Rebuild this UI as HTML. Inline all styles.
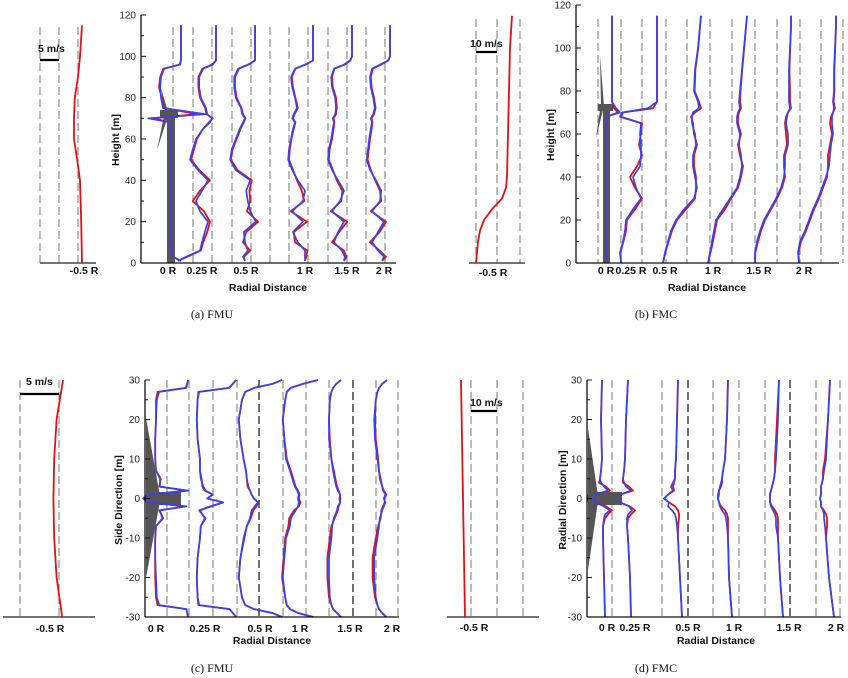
<!DOCTYPE html>
<html><head><meta charset="utf-8"><style>
html,body{margin:0;padding:0;background:#fff;}
svg{display:block;font-family:"Liberation Sans",Arial,sans-serif;}
.tk{font-size:10px;fill:#222;}
.lb{font-size:10.5px;font-weight:bold;fill:#111;}
.cap{font-family:"Liberation Serif",serif;font-size:12px;fill:#111;}
</style></head><body>
<svg id="fig" width="848" height="678" viewBox="0 0 848 678"></svg>
<script>
// ===== Panel (a) FMU : height profiles =====
const aHeights=[1,3,6,10,15,20,25,30,35,40,45,50,55,60,65,68,70,72,75,80,85,90,94,96,98,100,105,110,115];
const aStations=["0 R","0.25 R","0.5 R","1 R","1.5 R","2 R"];
const aBlue=[
[10,8,7.5,7.5,7.5,7.5,7.5,7.5,7.5,7.5,7.5,7.5,7.5,7.5,7.5,7.5,1.8,16.2,5.5,5,4.8,5,5.8,9.8,10,10,10,10,10],
[0.5,2.5,6,6.5,7.2,8,6,5,6.5,8,5.5,3.5,4.2,5,6.8,8.5,9,7.8,7.5,6.2,5.8,5.8,6.8,9.2,10,10,10,10,10],
[7.5,7,8.2,7.5,7.2,10.2,8.8,8.2,7.8,8.8,5.2,3.8,4.2,5.2,6.2,7,7.5,6.8,6.5,5.2,4.8,4.8,5.8,8.2,10,10,10,10,10],
[8,8,8,6.2,5,7.5,4.8,7.5,8,6.2,4.8,3.8,4,4.5,5,5.5,4.8,5.2,6,5.5,4.8,4.5,5.5,8,10,10,10,10,10],
[8,8.2,7.5,5.5,6.5,8,5,7,8,6.5,5,4,4.2,4.8,5.2,5.5,5.2,5.8,6,5.8,5,4.8,5.5,8,9.5,10,10,10,10],
[8,8.5,7,5.5,7,8.5,5.5,7.5,7.8,6.5,5,4.2,4.5,4.8,5.2,5.5,5.2,5.8,6.2,5.8,5.2,5,5.5,7.5,9.5,10,10,10,10]];
const aRed=[
[10,8,7.5,7.5,7.5,7.5,7.5,7.5,7.5,7.5,7.5,7.5,7.5,7.5,7.5,7.5,3,14,5.8,5.2,4.5,4.8,5.6,9.6,10,10,10,10,10],
[0.5,2.8,6.2,6.8,7.8,8.5,7,4.2,6,8.5,5.8,3.8,4.5,5.2,6.8,8.2,9.2,7.6,7.3,6,5.6,5.6,6.6,9,10,10,10,10,10],
[7.5,7.2,8.8,7,7.8,10.8,8,8.8,8.6,9.2,5.6,4,4.4,5.4,6.4,7.2,7.6,7,6.6,5.4,5,5,6,8.4,10,10,10,10,10],
[8,8.3,8.6,5.5,5.2,8.5,4.4,7.8,7.2,6,5,4,4.2,4.6,5.2,5.6,5,5.4,6.2,5.6,5,4.7,5.6,8.2,10,10,10,10,10],
[8,8.6,8,5,6.8,8.8,4.7,7.3,7.6,6.2,5.2,4.2,4.4,5,5.4,5.6,5.4,6,6.2,6,5.2,5,5.6,8.2,9.6,10,10,10,10],
[8,9,7.4,5,7.4,9,5.2,7.8,7.5,6.3,5.2,4.4,4.7,5,5.4,5.6,5.4,6,6.4,6,5.4,5.2,5.7,7.8,9.6,10,10,10,10]];
const aInH=[0,20,40,50,60,70,80,90,100,115];
const aInU=[10,9.8,9.5,8.8,8,8,8.2,9,9.5,10];
const aYTicks=[0,20,40,60,80,100,120];

// ===== Panel (b) FMC : height profiles =====
const bHeights=[0,5,10,15,20,25,30,35,40,45,50,55,60,65,68,70,72,75,80,90,100,110,115];
const bStations=["0 R","0.25 R","0.5 R","1 R","1.5 R","2 R"];
const bBlue=[
[17,17,17,17,17,17,17,17,17,17,17,17,17,17,17,24,22,20,20,20,20,20,20],
[2,1.5,3,4,4.5,8,12,9.5,8,11.5,12,12,11.5,12,1.5,2.5,15.5,20,20,20,20,20,20],
[1,2,3.5,5,7.5,11.5,16.5,18,17,16,16,17.5,17,15.5,15.5,16,19,18.5,16.5,17,18.5,19.5,20],
[0.5,1.5,2.5,3.5,4.5,8,11.5,15,16.5,17.5,17,16,16.5,15,15,15.5,16.5,16,16.5,17.5,18.5,19.5,20],
[2,2,3,4.5,6.5,9.5,12.5,15,16.5,17,17,18.5,18.5,17.5,18,18.5,19.5,19,19,19,19.5,20,20],
[1.5,1,2,4.5,6.5,8.5,11,13,15,16.5,17,17.5,18.5,18,18,18.5,19,18.5,19,19,19.5,20,20]];
const bRed=[
[17,17,17,17,17,17,17,17,17,17,17,17,17,17,17,23,21,20,20,20,20,20,20],
[2,1.8,3.2,4.5,5,9,12.5,9,6.5,10,12.5,11,12,12.5,2,3,18,20,20,20,20,20,20],
[1,2.2,3.8,5.5,8,12.5,17,17.5,17.5,16.5,16.5,18,16.5,16,15,17,20,19,16.8,17.2,18.6,19.5,20],
[0.5,1.8,3,4,5,9,12,15.5,17,18,16.5,15.5,17,15.5,15.5,16,17,16.5,16.8,17.6,18.6,19.5,20],
[2,2.2,3.5,5,7,10,13,15.5,17,16.5,16.5,18,17.5,17,17.5,18.5,20,19.5,19.5,19.2,19.6,20,20],
[1.5,1.2,2.5,5,7,9,11.5,13.5,15.5,16,16,17,18,17,17.5,18.5,19.5,18.8,19.2,19.2,19.6,20,20]];
const bInH=[0,5,10,15,20,25,30,35,40,60,80,100,115];
const bInU=[2,2.5,3,4,6,10,15,17,17.5,18,18.5,19,20];
const bYTicks=[0,20,40,60,80,100,120];

// ===== Panel (c) FMU : side profiles =====
const cSide=[-30,-29,-28,-27,-25,-20,-15,-10,-7,-5,-3,-2,-1,0,1,2,3,5,7,10,15,20,25,27,28,29,30];
const cStations=["0 R","0.25 R","0.5 R","1 R","1.5 R","2 R"];
const cBlue=[
[10,9.9,9.8,6.4,6.1,6,5.9,5.9,6,6.8,6.5,9.8,5,4.4,5,10,6.5,6.5,6,5.9,5.9,6,6.1,6.4,9.8,9.9,10],
[10,9.6,9.2,5.4,5.2,5.1,5.2,5.5,5.6,6.1,5.5,6.9,8.4,6.4,7.1,6.2,5.9,5.6,5.5,5.5,5.2,5.1,5.2,5.4,9.2,9.6,10],
[10,8.8,6.5,5.4,5,4.6,4.8,5.2,5.6,6,6.2,6.6,7,6.5,6.2,6,5.8,5.6,5.5,5.2,4.8,4.6,5,5.4,6.5,8.8,10],
[9.4,7.5,6.5,6.1,5.9,5.6,5.8,6,6.5,6.6,7.2,7.5,7.6,7.5,7.6,7.4,7.1,6.8,6.5,6,5.8,5.6,5.9,6.1,6.6,8.1,10],
[10,9.5,9,8.8,8.6,8.5,8.5,8.8,8.9,9.1,9.5,9.6,9.9,9.8,9.9,9.6,9.4,9.2,9,8.8,8.5,8.5,8.6,8.8,9,9.4,10],
[9.9,9.4,9,8.8,8.6,8.4,8.4,8.8,9,9.1,9.4,9.6,9.8,9.6,9.8,9.5,9.4,9.1,9,8.8,8.5,8.4,8.6,8.8,9,9.4,10]];
const cRed=[
[10,9.9,9.8,6.2,6,5.9,5.9,5.9,6,6.9,6.4,9.6,5,4.4,5,9.8,6.4,6.6,6,5.9,5.9,6,6,6.2,9.7,9.9,10],
[10,9.6,9.2,5.3,5.2,5.1,5.2,5.5,5.6,6.2,5.4,6.8,8.4,6.4,7.1,6.1,5.8,5.7,5.5,5.5,5.2,5.1,5.2,5.3,9.1,9.6,10],
[10,8.8,6.5,5.4,5,4.6,4.8,5.3,5.6,6.1,6.4,6.8,7,6.5,6.2,6,5.7,5.6,5.5,5.2,4.8,4.6,5,5.4,6.5,8.8,10],
[9.4,7.5,6.5,6.1,5.9,5.5,5.7,5.9,6.3,6.4,7,7.6,7.8,7.6,7.7,7.5,7.2,6.9,6.6,6.1,5.8,5.6,5.9,6.1,6.6,8.1,10],
[10,9.5,9,8.8,8.5,8.3,8.3,8.6,8.8,9.2,9.6,9.7,9.9,9.9,9.9,9.7,9.5,9.3,9.1,8.8,8.6,8.5,8.6,8.8,9,9.4,10],
[9.9,9.4,9,8.8,8.5,8.2,8.2,8.6,8.9,9.2,9.3,9.5,9.7,9.7,9.9,9.6,9.4,9.2,9,8.9,8.6,8.5,8.6,8.8,9,9.4,10]];
const cInS=[-30,-20,-10,0,10,20,25,30];
const cInU=[9.9,9.2,8.9,8.8,8.9,9.2,9.6,10];
const cYTicks=[-30,-20,-10,0,10,20,30];

// ===== Panel (d) FMC : radial profiles =====
const dSide=[-30,-20,-10,-7,-5,-4,-3,-2,-1,0,1,2,3,4,5,7,10,20,30];
const dStations=["0 R","0.25 R","0.5 R","1 R","1.5 R","2 R"];
const dBlue=[
[21.2,20.8,20.4,20.4,20.8,21.2,23.2,20.8,17.2,17.2,17.2,22.4,20.8,19.6,19.2,19.6,20,19.6,20],
[21.2,20.8,20,19.6,19.6,20,21.6,20.4,16.8,16.8,16.8,21.2,19.2,18.4,18,18.4,18.8,19.2,20],
[21.6,20.8,20,19.6,19.2,18.8,17.6,16,16.4,14.4,16,18,17.2,18,18.8,18.8,19.2,19.6,20],
[21.6,20.4,20,19.6,19.2,18.8,17.6,16.8,16.4,16,16.4,16.4,16.8,17.2,17.6,18,18.8,19.6,20],
[21.6,20.4,19.6,18.8,18.8,18.4,17.6,16.8,16.4,16.4,16.4,16.8,17.2,17.6,18,18.4,18.8,19.6,20],
[21.6,19.6,18.4,18,17.6,17.6,17.2,16.4,16.4,16,16.4,16.4,16.4,16.8,17.2,17.6,18.4,19.2,20]];
const dRed=[
[21.2,20.8,20.4,20.4,21.2,22.4,24,21.6,17.2,17.2,17.2,23.2,21.6,18.8,19.2,19.6,20,19.6,20],
[21.2,20.8,20,19.6,20,21.2,22.8,20.8,16.8,16.8,16.8,22,20.4,18,18,18.4,18.8,19.2,20],
[21.6,20.8,20,20,20.4,20.4,20,18.8,16.4,14.4,16,18.4,18,18.4,18.8,18.8,19.2,19.6,20],
[21.6,20.4,20,20,20,19.6,18.8,17.2,16.4,16,16,16.4,17.2,17.6,17.6,18,18.8,19.6,20],
[21.6,20.4,19.6,19.6,19.6,19.2,18.4,17.2,16.4,16.4,16.4,16.8,17.2,17.6,18,18.4,18.4,19.2,20],
[21.6,19.6,18.4,18.8,18.8,18.4,17.6,16.4,16.4,16,16.4,16.4,16.4,16.8,17.2,17.2,18,19.2,20]];
const dInS=[-30,0,30];
const dInU=[21.6,20.8,20];
const dYTicks=[-30,-20,-10,0,10,20,30];

const NS='http://www.w3.org/2000/svg';
const svg=document.getElementById('fig');
function el(tag,attrs,parent){const e=document.createElementNS(NS,tag);for(const k in attrs)e.setAttribute(k,attrs[k]);(parent||svg).appendChild(e);return e;}
function txt(x,y,s,cls,anchor,parent){const t=el('text',{x:x,y:y,class:cls,'text-anchor':anchor||'middle'},parent);t.textContent=s;return t;}

// layout (not data): station label positions, freestream line positions, scales
const P={
 a:{H:aHeights,blue:aBlue,red:aRed,st:aStations,inY:aInH,inU:aInU,ticks:aYTicks,
    y:v=>263-v*248/120,k:4,U0:10,top:[181,216,255,313,352,390],lab:[168,202,246,305,347,384],labY:274,
    axX:141,axTop:15,axR:396,axB:263,dash:[173,193,212,232,251,270,289,308,328,347,366,385],dashTop:27,blk:[],
    small:{x0:40,x1:96,dash:[40,59,78],topX:82,k:4,U0:10,lab:[84,274,'-0.5 R'],bar:[40,59,60,'5 m/s',38,52],top:22},
    yt:'Height [m]',ytX:119,ytY:140,xt:[268,291],cap:[212,318,'(a) FMU'],minor:10},
 b:{H:bHeights,blue:bBlue,red:bRed,st:bStations,inY:bInH,inU:bInU,ticks:bYTicks,
    y:v=>263-v*258/120,k:2,U0:20,top:[612,657,701,747,791,836],lab:[606,631,665,713,759,804],labY:274,
    axX:576,axTop:5,axR:839,axB:263,dash:[598,621,642,666,687,710,732,755,777,800,821,843],dashTop:19,blk:[],
    small:{x0:469,x1:525,dash:[476,497,520],topX:512,k:2,U0:20,lab:[493,276,'-0.5 R'],bar:[476,497,52,'10 m/s',470,47],top:19},
    yt:'Height [m]',ytX:554,ytY:135,xt:[707,291],cap:[656,318,'(b) FMC'],minor:10},
 c:{H:cSide,blue:cBlue,red:cRed,st:cStations,inY:cInS,inU:cInU,ticks:cYTicks,
    y:v=>498.5-v*237/60,k:8,U0:10,top:[188,236,282,318,341,387],lab:[156,205,260,300,350,392],labY:632,
    axX:145,axTop:380,axR:399,axB:617,dash:[167,189,213,237,259,283,306,329,353,376,398],dashTop:380,blk:[259,353],
    small:{x0:3,x1:95,dash:[20,59],topX:63,k:8,U0:10,lab:[50,632,'-0.5 R'],bar:[20,59,394,'5 m/s',26,385],top:380},
    yt:'Side Direction [m]',ytX:122,ytY:500,xt:[272,644],cap:[212,672,'(c) FMU'],minor:5},
 d:{H:dSide,blue:dBlue,red:dRed,st:dStations,inY:dInS,inU:dInU,ticks:dYTicks,
    y:v=>498.5-v*237/60,k:2.5,U0:20,top:[602,628,678,728,779,830],lab:[607,635,688,734,789,836],labY:631,
    axX:587,axTop:380,axR:841,axB:617,dash:[612,662,688,713,739,765,790,816,840],dashTop:380,blk:[688,790],
    small:{x0:447,x1:539,dash:[471,497,523],topX:461,k:2.5,U0:20,lab:[474,631,'-0.5 R'],bar:[471,497,411,'10 m/s',470,406],top:380},
    yt:'Radial Direction [m]',ytX:566,ytY:500,xt:[716,644],cap:[656,672,'(d) FMC'],minor:5}
};

function pts(Y,U,x0,k,U0,yf){return Y.map((h,i)=>(x0+k*(U[i]-U0)).toFixed(1)+','+yf(h).toFixed(1)).join(' ');}

function panel(id,c){
 const g=el('g',{});
 
 
 const s=c.small;
 s.dash.forEach(x=>{const l=el('line',{x1:x,y1:c.dashTop,x2:x,y2:c.axB,stroke:'#555','stroke-width':0.8,'stroke-dasharray':'8,4'},g);
   });
 const sa=el('line',{x1:s.x0,y1:c.axB,x2:s.x1,y2:c.axB,stroke:'#222','stroke-width':1.3},g);
 
 const ip=el('polyline',{points:pts(c.inY,c.inU,s.topX,s.k,s.U0,c.y),fill:'none',stroke:'#e0101a','stroke-width':1.8},g);
 
 const sl=txt(s.lab[0],s.lab[1],s.lab[2],'lb','middle',g);
 
 const bar=el('line',{x1:s.bar[0],y1:s.bar[2],x2:s.bar[1],y2:s.bar[2],stroke:'#000','stroke-width':2.2},g);
 
 const bt=txt(s.bar[4],s.bar[5],s.bar[3],'lb','start',g);
 
 c.dash.forEach(x=>{const dk=c.blk.includes(x);const l=el('line',{x1:x,y1:c.dashTop,x2:x,y2:c.axB,stroke:dk?'#111':'#555','stroke-width':dk?1.2:0.8,'stroke-dasharray':'8,4'},g);
   });
 turbine(id,c,g);
 c.red.forEach((u,i)=>{const p=el('polyline',{points:pts(c.H,u,c.top[i],c.k,c.U0,c.y),fill:'none',stroke:'#e0101a','stroke-width':1.8,'stroke-linejoin':'round'},g);
   });
 c.blue.forEach((u,i)=>{const p=el('polyline',{points:pts(c.H,u,c.top[i],c.k,c.U0,c.y),fill:'none',stroke:'#3344ee','stroke-width':1.7,'stroke-linejoin':'round'},g);
   });
 const ya=el('line',{x1:c.axX,y1:c.axTop,x2:c.axX,y2:c.axB,stroke:'#111','stroke-width':1.3},g);
 
 const xa=el('line',{x1:c.axX,y1:c.axB,x2:c.axR,y2:c.axB,stroke:'#111','stroke-width':1.3},g);
 
 const lo=c.ticks[0],hi=c.ticks[c.ticks.length-1];
 for(let v=lo;v<=hi;v+=c.minor){const yy=c.y(v);const major=c.ticks.includes(v);
   const t=el('line',{x1:c.axX,y1:yy,x2:c.axX+(major?5:3),y2:yy,stroke:'#111','stroke-width':1},g);
   }
 c.ticks.forEach(v=>{const t=txt(c.axX-5,c.y(v)+3.5,String(v),'tk','end',g);
   });
 c.st.forEach((s,i)=>{const t=txt(c.lab[i],c.labY,s,'lb','middle',g);
   });
 const xt=txt(c.xt[0],c.xt[1],'Radial Distance','lb','middle',g);
 
 const yt=txt(0,0,c.yt,'lb','middle',g);yt.setAttribute('transform','translate('+c.ytX+','+c.ytY+') rotate(-90)');
 
 const cp=txt(c.cap[0],c.cap[1],c.cap[2],'cap','middle',g);
 
}
function turbine(id,c,g){
 const col='#555';let shapes=[];
 if(id==='a'){shapes=[['rect',{x:167,y:118,width:8,height:145}],['rect',{x:160,y:110,width:18,height:8}],
   ['polygon',{points:'165,112 161,88 168,112'}],['polygon',{points:'164,116 157,150 168,116'}]];}
 if(id==='b'){shapes=[['rect',{x:603,y:110,width:7,height:153}],['rect',{x:598,y:104,width:15,height:7}],
   ['polygon',{points:'601,106 600,55 604,106'}],['polygon',{points:'600,110 596,138 603,110'}]];}
 if(id==='c'){shapes=[['polygon',{points:'146,418 160,496 146,498'}],['polygon',{points:'146,578 160,501 146,499'}],
   ['rect',{x:150,y:492,width:31,height:13}],['ellipse',{cx:153,cy:498.5,rx:8,ry:8}]];}
 if(id==='d'){shapes=[['polygon',{points:'588,428 598,496 588,498'}],['polygon',{points:'588,570 598,501 588,499'}],
   ['rect',{x:589,y:492,width:33,height:13}],['ellipse',{cx:594,cy:498.5,rx:7,ry:8}]];}
 shapes.forEach(s=>{const e=el(s[0],Object.assign({fill:col},s[1]),g);
   });
}
panel('a',P.a);panel('b',P.b);panel('c',P.c);panel('d',P.d);
</script>
</body></html>
